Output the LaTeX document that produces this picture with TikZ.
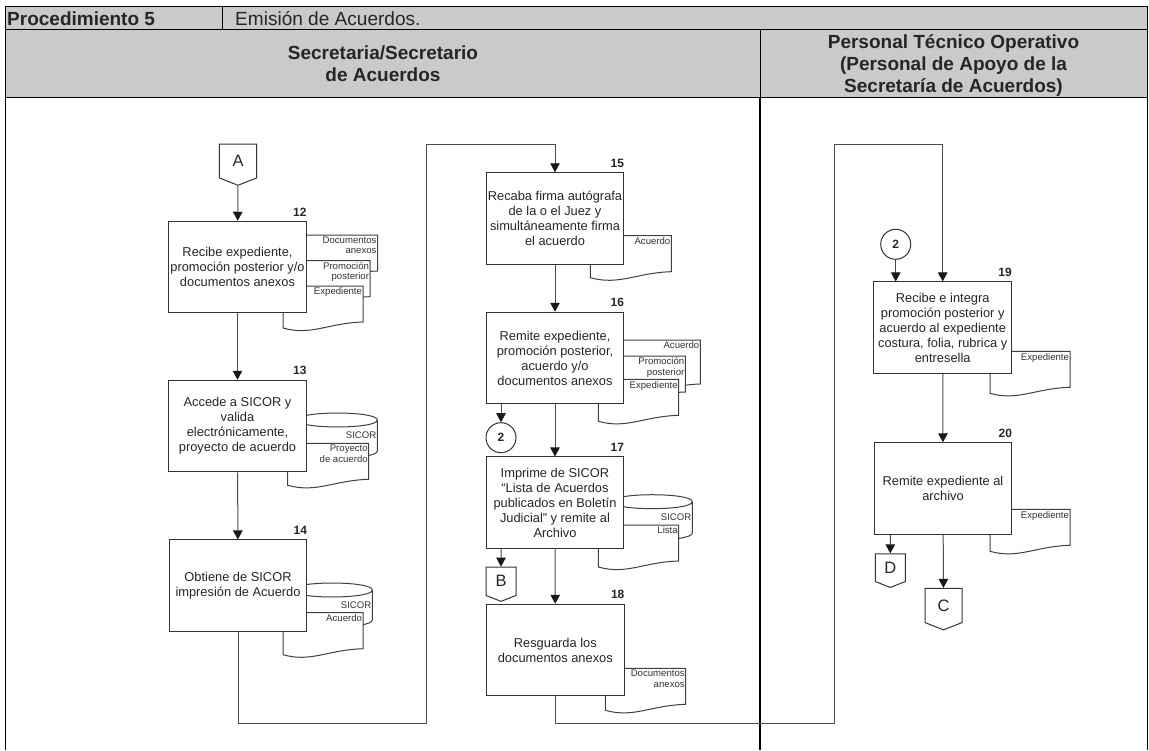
\documentclass[tikz,border=0pt]{standalone}
\usepackage{fontspec}
\setmainfont{Liberation Sans}
\usetikzlibrary{arrows.meta,shapes.symbols}
\definecolor{headgray}{RGB}{200,202,204}
\newcommand{\docsheet}[6][36]{
	\draw[sheet line] (#3,#4) -- (#5,#4) -- (#5,#4+#1) .. controls (#5-35,#4+#1+1) and (#5-52,#4+#1+14) .. (#3,#4+#1+6) -- cycle;
	\node[note text,anchor=north east] (#2) at (#5,#4) {#6};
}
\newcommand{\docdrum}[5]{
	\draw[sheet line] (#2,#3) -- (#2,#5) .. controls (#2,#5+9.3) and (#4,#5+9.3) .. (#4,#5) -- (#4,#3) .. controls (#4,#3-9.3) and (#2,#3-9.3) .. (#2,#3) .. controls (#2,#3+9.3) and (#4,#3+9.3) .. (#4,#3);
	\node[note text,anchor=east] (#1) at (#4,#3+15) {SICOR};
}
\begin{document}
\begin{tikzpicture}[x=1pt,y=-1pt]
\tikzstyle{task node}=[rectangle,draw=black!80,fill=white,line width=1pt,minimum width=137.5,minimum height=91.5,inner sep=0,align=center,text=black!85,font=\fontsize{12.85}{15}\selectfont]
\tikzstyle{sheet line}=[draw=black!75,fill=white,line width=1pt]
\tikzset{
	note text/.style={inner xsep=0.8,inner ysep=1.6,align=right,text=black!80,font=\fontsize{9.6}{10.4}\selectfont},
	step num/.style={inner sep=0,anchor=south east,yshift=4.5,font=\fontsize{12}{14}\selectfont\bfseries,text=black!85},
	circle node/.style={circle,draw=black!80,fill=white,line width=1pt,minimum size=30,inner sep=0,font=\fontsize{12}{14}\selectfont\bfseries,text=black!85},
	page node/.style={signal,signal to=south,signal pointer angle=137,draw=black!80,fill=white,line width=1pt,inner sep=0,font=\fontsize{16.5}{18}\selectfont,text=black!85},
	flow line/.style={draw=black!70,line width=1pt},
	flow arrow/.style={flow line,-{Triangle[length=9pt,width=9.5pt,color=black!90]}},
	head big/.style={inner sep=0,align=center,text=black!85,font=\fontsize{19}{22}\selectfont\bfseries}
}
\useasboundingbox (0,0) rectangle (1149,750);
\fill[headgray] (5.5,6.5) rectangle (1147,97);
\draw[black,line width=1pt] (5.5,750) -- (5.5,6.5) -- (1147,6.5) -- (1147,750);
\draw[black,line width=1pt] (5.5,29.5) -- (1147,29.5);
\draw[black,line width=1pt] (5.5,97) -- (1147,97);
\draw[black,line width=1pt] (222,6.5) -- (222,29.5);
\draw[black,line width=1pt] (760,29.5) -- (760,97);
\draw[black,line width=2pt] (760,97) -- (760,750);
\node[head big,anchor=west] (procname) at (7,18.3) {Procedimiento 5};
\node[head big,anchor=west,font=\fontsize{19.05}{22}\selectfont] (proctitle) at (235,18.3) {Emisión de Acuerdos.};
\node[head big] (headleft) at (383,64) {Secretaria/Secretario\\de Acuerdos};
\node[head big] (headright) at (953.5,65.5) {Personal Técnico Operativo\\(Personal de Apoyo de la\\Secretaría de Acuerdos)};

\docsheet{docA}{297.5}{235}{377.5}{Documentos\\anexos}
\docsheet{docB}{290}{260.7}{370}{Promoción\\posterior}
\docsheet{docC}{283}{286}{363}{Expediente}
\docdrum{drumA}{297.5}{420}{377.3}{451}
\docsheet{docD}{287.7}{443.3}{368.7}{Proyecto\\de acuerdo}
\docdrum{drumB}{292.5}{590}{372.3}{620}
\docsheet{docE}{283}{612.7}{363}{Acuerdo}
\docsheet{docF}{590.3}{235.7}{671.3}{Acuerdo}
\docsheet[44]{docG}{620}{340}{700.3}{Acuerdo}
\docsheet{docH}{605}{356}{685.3}{Promoción\\posterior}
\docsheet{docI}{598.3}{379.3}{678.7}{Expediente}
\docdrum{drumC}{612.3}{501.7}{692.3}{533}
\docsheet{docJ}{598.3}{525}{678.7}{Lista}
\docsheet{docK}{605.3}{668.3}{685.7}{Documentos\\anexos}
\docsheet{docL}{990}{351.3}{1070}{Expediente}
\docsheet{docM}{990}{509.3}{1070}{Expediente}

\node[task node] (box12) at (237.5,267) {Recibe expediente,\\promoción posterior y/o\\documentos anexos};
\node[task node] (box13) at (237.5,426) {Accede a SICOR y\\valida\\electrónicamente,\\proyecto de acuerdo};
\node[task node] (box14) at (238,585.7) {Obtiene de SICOR\\impresión de Acuerdo};
\node[task node] (box15) at (555,218.5) {Recaba firma autógrafa\\de la o el Juez y\\simultáneamente firma\\el acuerdo};
\node[task node] (box16) at (555,358) {Remite expediente,\\promoción posterior,\\acuerdo y/o\\documentos anexos};
\node[task node] (box17) at (555,502.7) {Imprime de SICOR\\“Lista de Acuerdos\\publicados en Boletín\\Judicial” y remite al\\Archivo};
\node[task node] (box18) at (555.3,650) {Resguarda los\\documentos anexos};
\node[task node] (box19) at (942.7,327.7) {Recibe e integra\\promoción posterior y\\acuerdo al expediente\\costura, folia, rubrica y\\entresella};
\node[task node] (box20) at (943,488.5) {Remite expediente al\\archivo};

\node[step num] (num12) at (box12.north east) {12};
\node[step num] (num13) at (box13.north east) {13};
\node[step num] (num14) at (box14.north east) {14};
\node[step num] (num15) at (box15.north east) {15};
\node[step num] (num16) at (box16.north east) {16};
\node[step num] (num17) at (box17.north east) {17};
\node[step num] (num18) at (box18.north east) {18};
\node[step num] (num19) at (box19.north east) {19};
\node[step num] (num20) at (box20.north east) {20};

\node[page node,minimum width=37.4,minimum height=36] (pageA) at (238,161) {A};
\node[page node,minimum width=30,minimum height=30.5] (pageB) at (501,581.3) {B};
\node[page node,minimum width=30,minimum height=30] (pageD) at (890.3,567.7) {D};
\node[page node,minimum width=37,minimum height=36.5] (pageC) at (943.5,605.5) {C};
\node[circle node] (circleL) at (501,437.7) {2};
\node[circle node] (circleR) at (895.7,244.3) {2};

\coordinate (turnA) at (426.7,723.5);
\coordinate (turnB) at (426.7,144);
\coordinate (turnC) at (834.7,723.5);
\coordinate (turnD) at (834.7,144);

\draw[flow arrow] (pageA) -- (box12);
\draw[flow arrow] (box12) -- (box13);
\draw[flow arrow] (box13) -- (box14);
\draw[flow arrow] (box14.south) |- (turnA) -- (turnB) -| (box15.north);
\draw[flow arrow] (box15) -- (box16);
\draw[flow arrow] (box16) -- (box17);
\draw[flow arrow] (box16.south -| circleL) -- (circleL);
\draw[flow arrow] (box17.south -| pageB) -- (pageB);
\draw[flow arrow] (box17) -- (box18);
\draw[flow arrow] (box18.south) |- (turnC) -- (turnD) -| (box19.north);
\draw[flow arrow] (circleR) -- (box19.north -| circleR);
\draw[flow arrow] (box19) -- (box20);
\draw[flow arrow] (box20) -- (pageC);
\draw[flow arrow] (box20.south -| pageD) -- (pageD);
\end{tikzpicture}
\end{document}
